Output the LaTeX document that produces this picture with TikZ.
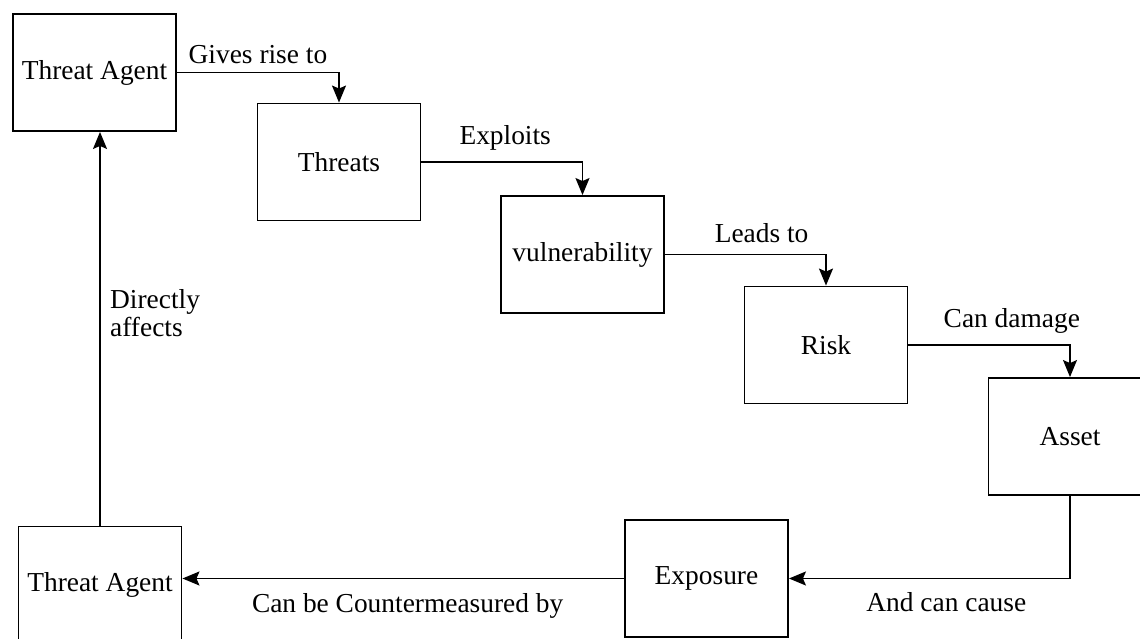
\documentclass[tikz,border=0pt]{standalone}
\usepackage{fontspec}
\setmainfont{Liberation Serif}
\usepackage{tikz}
\usetikzlibrary{arrows.meta,positioning,calc}
\tikzset{
  bx/.style={draw, line width=1.1pt, minimum width=3.26cm, minimum height=2.34cm,
    inner sep=2pt, font=\fontsize{15.6}{17}\selectfont},
  flab/.style={font=\fontsize{15.6}{16}\selectfont},
  farr/.style={-{Stealth[length=3.4mm, width=2.8mm, inset=0.6mm]}, line width=0.9pt},
}

\begin{document}
\begin{tikzpicture}[x=0.02cm, y=-0.02cm]
  \useasboundingbox (0,0) rectangle (1140,639);
  % boxes
  \node[bx] (ta1) at (94.5,72.5) {Threat Agent};
  \node[bx] (thr) at (339,162) {Threats};
  \node[bx] (vul) at (582.5,254.5) {vulnerability};
  \node[bx] (risk) at (826,345) {Risk};
  \node[bx] (asset) at (1070,436.5) {Asset};
  \node[bx] (expo) at (706.5,578.5) {Exposure};
  \node[bx] (ta2) at (100,585) {Threat Agent};
  % connectors
  \draw[farr] (ta1.east) -| node[flab, pos=0.25, above=1pt] {Gives rise to} (thr.north);
  \draw[farr] (thr.east) -| node[flab, pos=0.26, above=3pt] {Exploits} (vul.north);
  \draw[farr] (vul.east) -| node[flab, pos=0.3, above=3pt] {Leads to} (risk.north);
  \draw[farr] (risk.east) -| node[flab, pos=0.32, above=3pt] {Can damage} (asset.north);
  \draw[farr] (asset.south) |- node[flab, pos=0.72, below=4pt] {And can cause} (expo.east);
  \draw[farr] (expo.west) -- node[flab, pos=0.49, below=5pt] {Can be Countermeasured by} (expo.west -| ta2.east);
  \draw[farr] (ta2.north) -- node[flab, pos=0.54, right=2pt, align=left] {Directly\\affects} (ta2.north |- ta1.south);
\end{tikzpicture}
\end{document}
